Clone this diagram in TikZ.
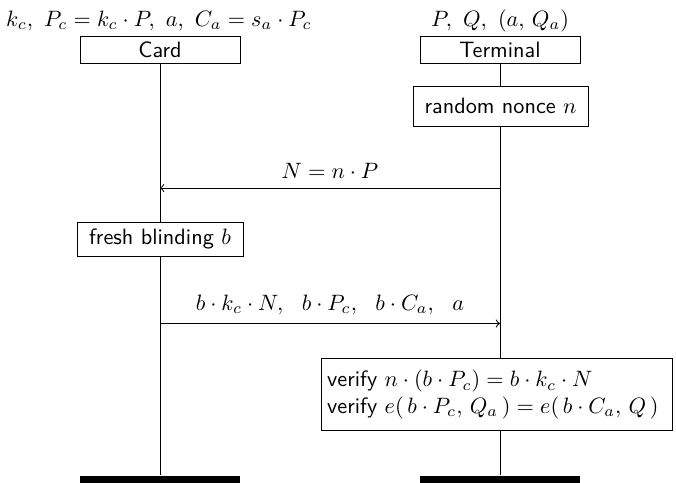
\documentclass[tikz,border=0pt]{standalone}
\usepackage{amsmath}
\begin{document}
\begin{tikzpicture}[x=0.45pt,y=-0.45pt,
  actorbox/.style={draw,fill=white,font=\sffamily,minimum width=0.45*160pt,minimum height=0.45*27pt,inner sep=0pt},
  actionbox/.style={draw,fill=white,font=\sffamily,inner sep=0pt},
  endbar/.style={fill=black,draw=none,minimum width=0.45*160pt,minimum height=0.45*7pt,inner sep=0pt,anchor=north},
  msg/.style={->,line width=0.45pt},
  lifeline/.style={line width=0.45pt},
  every node/.append style={line width=0.45pt}]
\useasboundingbox (0,0) rectangle (676,482);
% headers
\node[anchor=base] (cardinfo) at (159,26) {$k_c,\ P_c = k_c \cdot P,\ a,\ C_a = s_a \cdot P_c$};
\node[anchor=base] (terminfo) at (500,26) {$P,\ Q,\ (a,\, Q_a)$};
\node[actorbox] (card) at (160,49.5) {Card};
\node[actorbox] (term) at (500,49.5) {Terminal};
% actions
\node[actionbox,minimum width=0.45*175pt,minimum height=0.45*40pt] (nonce) at (500.5,106) {random nonce $n$};
\node[actionbox,minimum width=0.45*166pt,minimum height=0.45*34pt] (blind) at (160,239) {fresh blinding $b$};
\node[actionbox,anchor=north west,align=left,text width=0.45*340pt,inner xsep=0.45*5.7pt,minimum height=0.45*72pt] (verify) at (321,358)
  {verify $n\cdot(b\cdot P_c) = b\cdot k_c\cdot N$\\
   verify $e(\,b\cdot P_c,\, Q_a\,) = e(\,b\cdot C_a,\, Q\,)$};
% end bars
\node[endbar] (cardend) at (160,475) {};
\node[endbar] (termend) at (500,475) {};
% lifelines
\draw[lifeline] (card.south) -- (blind.north);
\draw[lifeline] (blind.south) -- (cardend.north);
\draw[lifeline] (term.south) -- (term.south |- nonce.north);
\draw[lifeline] (term.south |- nonce.south) -- (term.south |- verify.north);
\draw[lifeline] (term.south |- verify.south) -- (termend.north);
% messages
\coordinate (m1t) at (500,188);
\coordinate (m1c) at (160,188);
\draw[msg] (m1t) -- (m1c);
\node[anchor=base] (m1lab) at (330,178.5) {$N = n\cdot P$};
\coordinate (m2c) at (160,323.5);
\coordinate (m2t) at (500,323.5);
\draw[msg] (m2c) -- (m2t);
\node[anchor=base] (m2lab) at (330,310.5) {$b\cdot k_c\cdot N,\ \ b\cdot P_c,\ \ b\cdot C_a,\ \ a$};
\end{tikzpicture}
\end{document}
